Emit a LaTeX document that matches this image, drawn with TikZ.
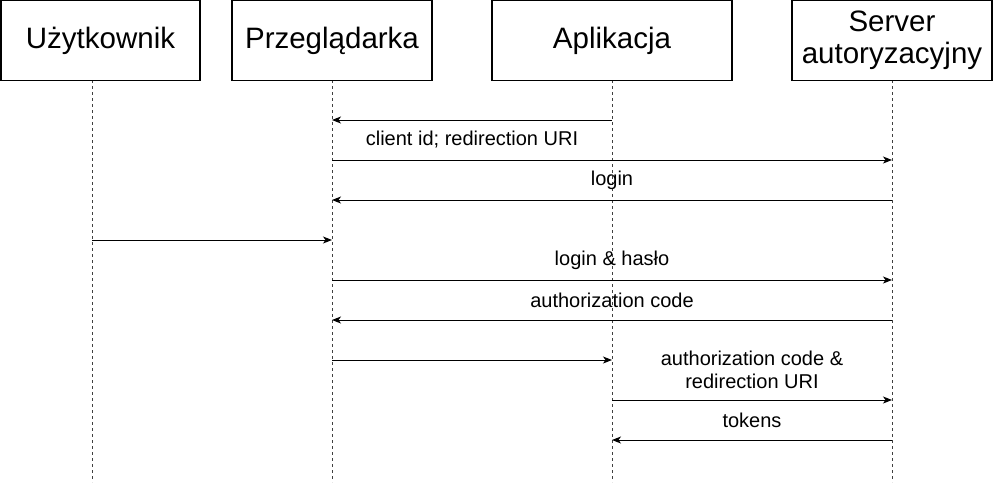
\documentclass[tikz,border=0pt]{standalone}
\usepackage{fontspec}
\setmainfont{Liberation Sans}
\usetikzlibrary{arrows.meta}
\begin{document}
\begin{tikzpicture}[x=1pt,y=-1pt,
  actor/.style={draw=black, line width=1.2pt, fill=white, minimum height=80pt, inner sep=0pt,
    font=\fontsize{29.5}{35}\selectfont, align=center},
  life/.style={draw=black!75, line width=1pt, dash pattern=on 3pt off 3pt},
  msg/.style={draw=black, line width=1pt, -{Stealth[length=9pt,width=7pt,inset=2.5pt]}},
  lbl/.style={font=\fontsize{20}{24}\selectfont, align=center, inner sep=0pt}]
\useasboundingbox (0,0) rectangle (993,482);
% lifeline end points
\coordinate (ut) at (92,80);  \coordinate (ub) at (92,482);
\coordinate (pt) at (332,80); \coordinate (pb) at (332,482);
\coordinate (at) at (612,80); \coordinate (ab) at (612,482);
\coordinate (st) at (892,80); \coordinate (sb) at (892,482);
\draw[life] (ut) -- (ub);
\draw[life] (pt) -- (pb);
\draw[life] (at) -- (ab);
\draw[life] (st) -- (sb);
% actors
\node[actor, minimum width=199pt] (u) at (100.5,40.5) {Użytkownik};
\node[actor, minimum width=200pt] (p) at (332,40.5) {Przeglądarka};
\node[actor, minimum width=240pt] (a) at (612,40.5) {Aplikacja};
\node[actor, minimum width=200pt] (s) at (892,40.5) {Server\\[-3pt]autoryzacyjny};
% messages
\draw[msg] (at |- 0,120) -- (pt |- 0,120);
\draw[msg] (pt |- 0,160) -- (st |- 0,160);
\node[lbl] (l1) at (472,140) {client id; redirection URI};
\draw[msg] (st |- 0,200) -- (pt |- 0,200);
\node[lbl] (l2) at (612,180) {login};
\draw[msg] (ut |- 0,240) -- (pt |- 0,240);
\draw[msg] (pt |- 0,280) -- (st |- 0,280);
\node[lbl] (l3) at (612,260) {login \& hasło};
\draw[msg] (st |- 0,320) -- (pt |- 0,320);
\node[lbl] (l4) at (612,300) {authorization code};
\draw[msg] (pt |- 0,360) -- (at |- 0,360);
\draw[msg] (at |- 0,400) -- (st |- 0,400);
\node[lbl] (l5) at (752,370) {authorization code \&\\[-1pt]redirection URI};
\draw[msg] (st |- 0,440) -- (at |- 0,440);
\node[lbl] (l6) at (752,420) {tokens};
\end{tikzpicture}
\end{document}
